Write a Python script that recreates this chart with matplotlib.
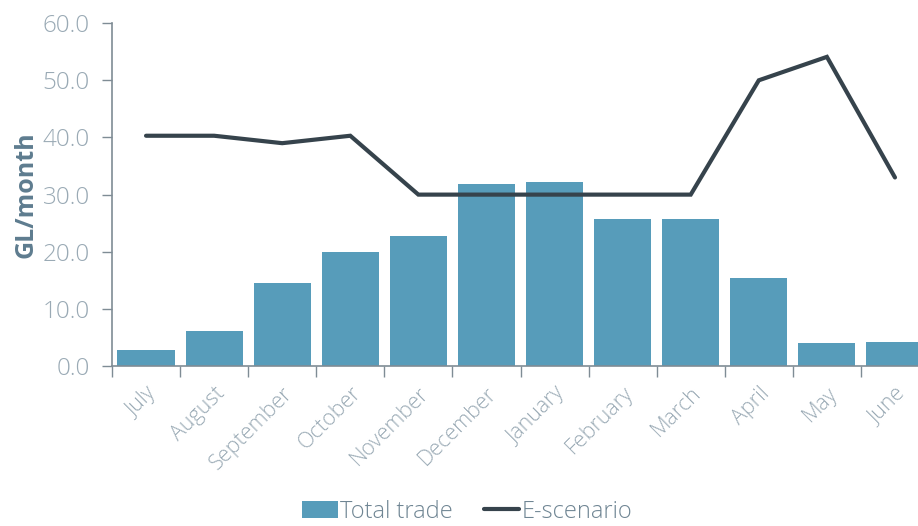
import matplotlib.pyplot as plt
import numpy as np

months = ['July', 'August', 'September', 'October', 'November', 'December',
          'January', 'February', 'March', 'April', 'May', 'June']
total_trade = [2.8, 6.1, 14.5, 20.0, 22.8, 31.8, 32.2, 25.8, 25.8, 15.4, 4.0, 4.2]
e_scenario = [40.3, 40.3, 39.0, 40.3, 30.0, 30.0, 30.0, 30.0, 30.0, 50.0, 54.1, 33.0]

bar_color = '#579cba'
line_color = '#36434c'
tick_color = '#9aaab5'
axis_color = '#7f8c95'

plt.rcParams['font.family'] = ['Open Sans', 'DejaVu Sans']
plt.rcParams['font.weight'] = 'light'

fig = plt.figure(figsize=(9.18, 5.26), dpi=100)
ax = fig.add_axes([0.122, 0.304, 0.89, 0.652])

x = np.arange(len(months))
bars = ax.bar(x, total_trade, width=0.84, color=bar_color, label='Total trade', zorder=2)
line, = ax.plot(x, e_scenario, color=line_color, linewidth=3.0, label='E-scenario',
                solid_capstyle='round', solid_joinstyle='miter', zorder=3)

ax.set_xlim(-0.5, len(months) - 0.5)
ax.set_ylim(0, 60)
ax.set_yticks(np.arange(0, 61, 10))
ax.set_yticklabels(['%.1f' % v for v in np.arange(0, 61, 10)])

ax.set_xticks(x)
ax.set_xticklabels(months, rotation=45, ha='right', va='top', rotation_mode='anchor')
ax.set_xticks(np.arange(-0.5, len(months), 1), minor=True)
ax.tick_params(axis='x', which='major', length=0, pad=12, labelsize=15.5, labelcolor=tick_color)
ax.tick_params(axis='x', which='minor', length=8, width=1, color=axis_color)
ax.tick_params(axis='y', length=7, width=1, color=axis_color, labelsize=17.5,
               labelcolor=tick_color, pad=9)

for s in ['top', 'right']:
    ax.spines[s].set_visible(False)
for s in ['left', 'bottom']:
    ax.spines[s].set_color(axis_color)
    ax.spines[s].set_linewidth(1.2)

ax.set_ylabel('GL/month', fontsize=18, fontweight='bold', color='#5e7c8f', labelpad=3)

fig.legend([bars, line], ['Total trade', 'E-scenario'], loc='lower center',
           bbox_to_anchor=(0.509, -0.036), ncol=2, frameon=False,
           fontsize=17, labelcolor='#6f8593', handlelength=1.5, handletextpad=0.1,
           columnspacing=1.3)

fig.savefig('out.png', dpi=100)
